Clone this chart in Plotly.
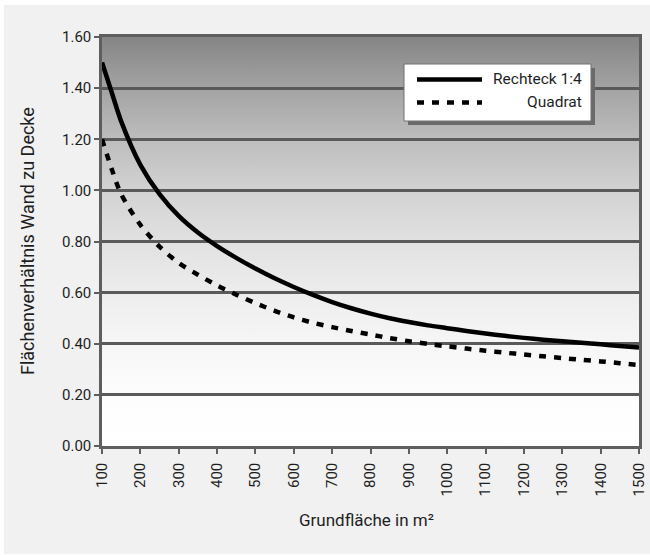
import base64
import plotly.graph_objects as go

# Grundfläche (m²) und Flächenverhältnis Wand/Decke je Grundrissform
area = [100, 125, 150, 200, 250, 300, 350, 400, 450, 500, 550, 600, 650,
        700, 750, 800, 850, 900, 950, 1000, 1050, 1100, 1150, 1200, 1250,
        1300, 1350, 1400, 1450, 1500]
rechteck = [1.50, 1.385, 1.27, 1.10, 0.985, 0.90, 0.835, 0.782, 0.736, 0.694,
            0.656, 0.622, 0.591, 0.563, 0.539, 0.518, 0.5, 0.485, 0.472, 0.461,
            0.45, 0.44, 0.431, 0.423, 0.416, 0.41, 0.404, 0.398, 0.391, 0.385]
quadrat = [1.20, 1.085, 0.985, 0.865, 0.78, 0.716, 0.67, 0.628, 0.592, 0.559,
           0.529, 0.503, 0.482, 0.465, 0.45, 0.436, 0.422, 0.41, 0.399, 0.39,
           0.381, 0.373, 0.365, 0.358, 0.351, 0.344, 0.337, 0.331, 0.324, 0.317]

series_names = ["Rechteck 1:4", "Quadrat"]
x_ticks = list(range(100, 1501, 100))
y_ticks = [0.0, 0.2, 0.4, 0.6, 0.8, 1.0, 1.2, 1.4, 1.6]
x_title = "Grundfläche in m²"
y_title = "Flächenverhältnis Wand zu Decke"

W, H = 650, 555
ML, MR, MT, MB = 102, 11, 37, 109
PW, PH = W - ML - MR, H - MT - MB

FONT = "Roboto"
TXT = "#1e1e1e"
AX = "#5e5e5e"


def px(x):
    return (x - ML) / PW


def py(y):
    return (H - MB - y) / PH


# vertical grey-to-white gradient for the plotting area
stops = [(0.0, "#858585"), (0.125, "#a3a3a3"), (0.25, "#bdbdbd"),
         (0.375, "#d2d2d2"), (0.5, "#e1e1e1"), (0.625, "#ededed"),
         (0.75, "#f6f6f6"), (0.875, "#fdfdfd"), (1.0, "#ffffff")]
stop_xml = "".join(f'<stop offset="{o}" stop-color="{c}"/>' for o, c in stops)
svg = ('<svg xmlns="http://www.w3.org/2000/svg" width="10" height="100" '
       'viewBox="0 0 10 100" preserveAspectRatio="none"><defs>'
       '<linearGradient id="g" x1="0" y1="0" x2="0" y2="1">' + stop_xml +
       '</linearGradient></defs><rect width="10" height="100" fill="url(#g)"/></svg>')
grad_src = "data:image/svg+xml;base64," + base64.b64encode(svg.encode()).decode()

fig = go.Figure()
fig.add_trace(go.Scatter(
    x=area, y=rechteck, name=series_names[0], mode="lines",
    line=dict(color="black", width=4.5, shape="spline", smoothing=0.8),
    showlegend=False, cliponaxis=False))
fig.add_trace(go.Scatter(
    x=area, y=quadrat, name=series_names[1], mode="lines",
    line=dict(color="black", width=4.5, dash="7px,8px", shape="spline", smoothing=0.8),
    showlegend=False, cliponaxis=False))

shapes = [
    # light grey chart panel
    dict(type="rect", xref="paper", yref="paper", layer="below",
         x0=px(4), x1=px(651), y0=py(554), y1=py(5),
         fillcolor="#f1f1f1", line=dict(width=0)),
    # legend shadow and box
    dict(type="rect", xref="paper", yref="paper",
         x0=px(408), x1=px(595), y0=py(125), y1=py(68),
         fillcolor="#6a6a6a", line=dict(width=0)),
    dict(type="rect", xref="paper", yref="paper",
         x0=px(404), x1=px(591), y0=py(121), y1=py(64),
         fillcolor="white", line=dict(color="#707070", width=1)),
    # legend line samples
    dict(type="line", xref="paper", yref="paper",
         x0=px(417), x1=px(482), y0=py(79.5), y1=py(79.5),
         line=dict(color="black", width=4.5)),
    dict(type="line", xref="paper", yref="paper",
         x0=px(417), x1=px(482), y0=py(102.5), y1=py(102.5),
         line=dict(color="black", width=4.5, dash="7px,8px")),
]

annotations = [
    dict(text=series_names[0], xref="paper", yref="paper", x=px(584), y=py(79),
         xanchor="right", yanchor="middle", showarrow=False,
         font=dict(family=FONT, size=15.5, color=TXT)),
    dict(text=series_names[1], xref="paper", yref="paper", x=px(584), y=py(102),
         xanchor="right", yanchor="middle", showarrow=False,
         font=dict(family=FONT, size=15.5, color=TXT)),
    dict(text=x_title, xref="paper", yref="paper", x=px(366), y=py(520),
         xanchor="center", yanchor="middle", showarrow=False,
         font=dict(family=FONT, size=17, color=TXT)),
    dict(text=y_title, xref="paper", yref="paper", x=px(27), y=py(241),
         xanchor="center", yanchor="middle", showarrow=False, textangle=-90,
         font=dict(family=FONT, size=18, color=TXT)),
]

fig.update_layout(
    width=W, height=H,
    margin=dict(l=ML, r=MR, t=MT, b=MB, pad=0, autoexpand=False),
    paper_bgcolor="white", plot_bgcolor="white",
    font=dict(family=FONT, size=15, color=TXT),
    shapes=shapes, annotations=annotations,
    images=[dict(source=grad_src, xref="x", yref="y", x=100, y=1.6,
                 sizex=1400, sizey=1.6, sizing="stretch",
                 xanchor="left", yanchor="top", layer="below")],
)

fig.update_xaxes(
    range=[100, 1500], tickvals=x_ticks, ticktext=[str(v) for v in x_ticks],
    tickangle=-90, ticks="outside", ticklen=5, tickwidth=2, tickcolor=AX,
    showgrid=False, zeroline=False, showline=True, linecolor=AX, linewidth=2.5,
    mirror=True, automargin=False, ticklabelstandoff=3,
    tickfont=dict(family=FONT, size=15, color=TXT))
fig.update_yaxes(
    range=[0, 1.6], tickvals=y_ticks, ticktext=[f"{v:.2f}" for v in y_ticks],
    ticks="outside", ticklen=5, tickwidth=2, tickcolor=AX,
    showgrid=True, gridcolor="#5a5a5a", gridwidth=2.5, zeroline=False,
    showline=True, linecolor=AX, linewidth=2.5, mirror=True, automargin=False,
    tickfont=dict(family=FONT, size=15, color=TXT))

fig.write_html("out.html")
